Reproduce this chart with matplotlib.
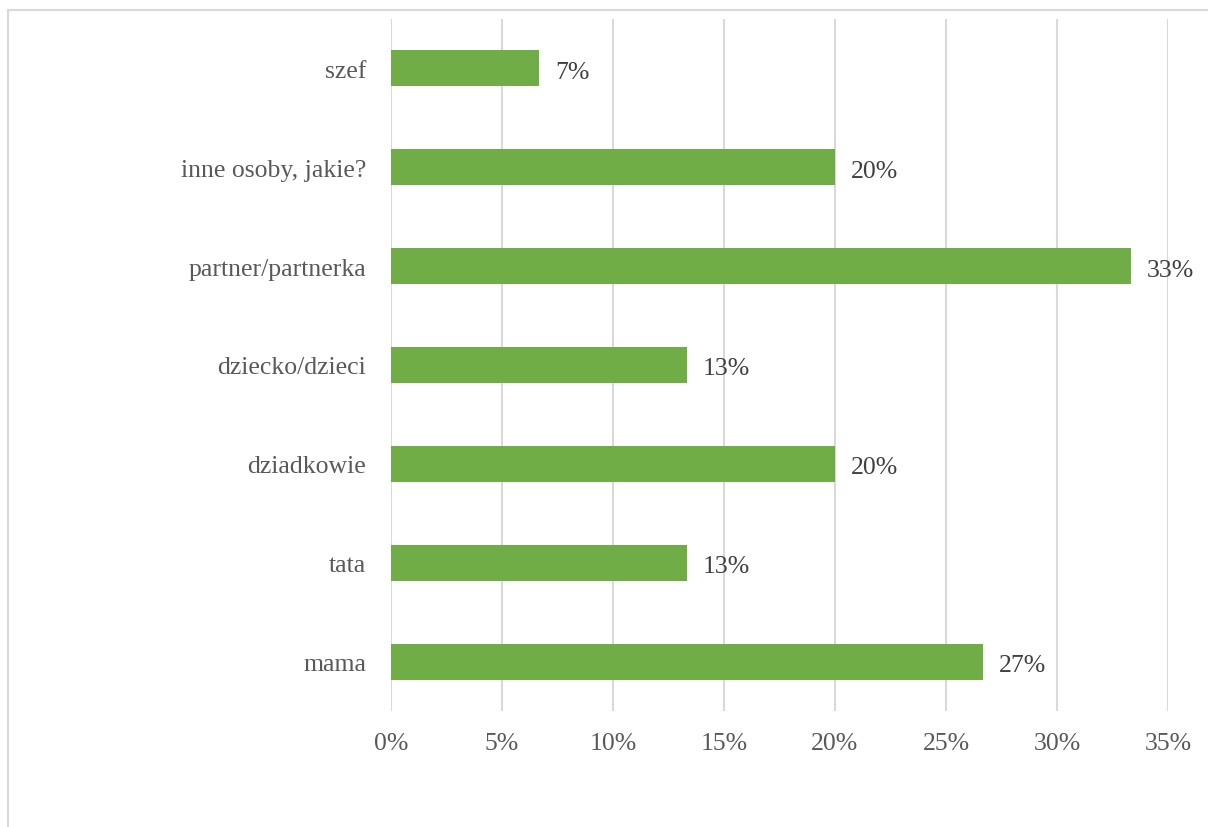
import matplotlib
matplotlib.use("Agg")
import matplotlib.pyplot as plt
from matplotlib.patches import Rectangle
from matplotlib.ticker import FuncFormatter, MultipleLocator

# dane (n=15)
categories = ["mama", "tata", "dziadkowie", "dziecko/dzieci", "partner/partnerka",
              "inne osoby, jakie?", "szef"]
values = [26.67, 13.33, 20.0, 13.33, 33.33, 20.0, 6.67]
labels = ["27%", "13%", "20%", "13%", "33%", "20%", "7%"]

W, H = 1208, 828
FS = 18.5
plt.rcParams["font.family"] = ["Liberation Serif", "DejaVu Serif"]

fig = plt.figure(figsize=(W / 100, H / 100), dpi=100)
# ramka obszaru wykresu (ucięta z prawej i od dołu)
fig.patches.append(Rectangle((8 / W, -0.1), 1.2, 1.1 - 11 / H, transform=fig.transFigure,
                             fill=False, ec="#D9D9D9", lw=1.5))

ax = fig.add_axes([391 / W, 1 - 712 / H, (1168 - 391) / W, (712 - 20) / H])
y = range(len(categories))
ax.barh(y, values, height=0.365, color="#70AD47", zorder=3)
for yi, v, t in zip(y, values, labels):
    ax.annotate(t, (v, yi), xytext=(11.5, -2.5), textcoords="offset points",
                va="center", ha="left", fontsize=FS, color="#404040")

ax.set_xlim(0, 35)
ax.set_ylim(-0.5, len(categories) - 0.5)
ax.xaxis.set_major_locator(MultipleLocator(5))
ax.xaxis.set_major_formatter(FuncFormatter(lambda v, _: f"{v:.0f}%"))
ax.set_yticks(list(y))
ax.set_yticklabels(categories)
ax.tick_params(axis="both", length=0, labelsize=FS, labelcolor="#595959")
ax.tick_params(axis="x", pad=15)
ax.tick_params(axis="y", pad=18)
ax.grid(axis="x", color="#D9D9D9", lw=1.5, zorder=0)
for s in ax.spines.values():
    s.set_visible(False)

fig.savefig("out.png", dpi=100)
